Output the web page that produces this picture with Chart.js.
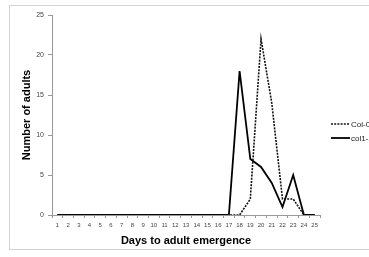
<!DOCTYPE html>
<html><head><meta charset="utf-8">
<script src="https://cdn.jsdelivr.net/npm/chart.js@4"></script>
<style>
html,body{margin:0;padding:0;background:#fff;overflow:hidden;}
#wrap{position:relative;width:369px;height:257px;overflow:hidden;}
#frame{position:absolute;left:9px;top:5px;width:380px;height:245px;border:1.5px solid #d4d4d4;box-sizing:border-box;}
canvas{position:absolute;left:0;top:0;}
</style></head>
<body><div id="wrap"><div id="frame"></div><canvas id="c" width="369" height="257"></canvas></div>
<script>
const days = ['1','2','3','4','5','6','7','8','9','10','11','12','13','14','15','16','17','18','19','20','21','22','23','24','25'];
const col0 = [0,0,0,0,0,0,0,0,0,0,0,0,0,0,0,0,0,0,2,22,14,2,2,0,0];
const col11 = [0,0,0,0,0,0,0,0,0,0,0,0,0,0,0,0,0,18,7,6,4,1,5,0,0];
const yTicks = [0,5,10,15,20,25];
const seriesNames = ['Col-0','col1-1'];
const xTitle = 'Days to adult emergence';
const yTitle = 'Number of adults';

const FONT = '"Liberation Sans", Arial, sans-serif';

const overlay = {
  id:'overlay',
  afterDraw(chart){
    const ctx = chart.ctx;
    const ca = chart.chartArea;
    ctx.save();
    ctx.fillStyle = '#000';
    ctx.font = 'bold 11px ' + FONT;
    ctx.textAlign = 'center';
    ctx.textBaseline = 'middle';
    ctx.fillText(xTitle, (ca.left + ca.right)/2, 241);
    ctx.translate(27, (ca.top + ca.bottom)/2);
    ctx.rotate(-Math.PI/2);
    ctx.fillText(yTitle, 0, 0);
    ctx.restore();
    // legend
    ctx.save();
    ctx.font = '8px ' + FONT;
    ctx.textBaseline = 'middle';
    ctx.textAlign = 'left';
    chart.data.datasets.forEach((ds, i) => {
      const y = 124 + i*14;
      ctx.strokeStyle = ds.borderColor;
      ctx.lineWidth = ds.borderWidth;
      ctx.setLineDash(ds.borderDash || []);
      ctx.beginPath(); ctx.moveTo(331, y); ctx.lineTo(350, y); ctx.stroke();
      ctx.setLineDash([]);
      ctx.fillStyle = '#222';
      ctx.fillText(ds.label, 351, y + 0.5);
    });
    ctx.restore();
  }
};

new Chart(document.getElementById('c'), {
  type:'line',
  data:{
    labels: days,
    datasets:[
      {label: seriesNames[0], data: col0, borderColor:'#111', borderWidth:1.6, borderDash:[2,1.2], pointRadius:0, tension:0, fill:false},
      {label: seriesNames[1], data: col11, borderColor:'#000', borderWidth:1.8, pointRadius:0, tension:0, fill:false}
    ]
  },
  options:{
    responsive:false, animation:false,
    layout:{padding:{left:0, right:49, top:15, bottom:0}},
    plugins:{legend:{display:false}, tooltip:{enabled:false}},
    scales:{
      x:{
        offset:true,
        grid:{offset:true, drawOnChartArea:false, tickLength:3, color:'#999'},
        border:{color:'#999', width:1},
        ticks:{font:{size:6, family:FONT}, color:'#444', padding:4, maxRotation:0, autoSkip:false},
        afterFit(s){ s.height = 42; }
      },
      y:{
        min:0, max:25,
        afterBuildTicks(s){ s.ticks = yTicks.map(v=>({value:v})); },
        grid:{drawOnChartArea:false, tickLength:4, color:'#999'},
        border:{color:'#999', width:1},
        ticks:{font:{size:7, family:FONT}, color:'#444', padding:4},
        afterFit(s){ s.width = 52; }
      }
    }
  },
  plugins:[overlay]
});
</script></body></html>
